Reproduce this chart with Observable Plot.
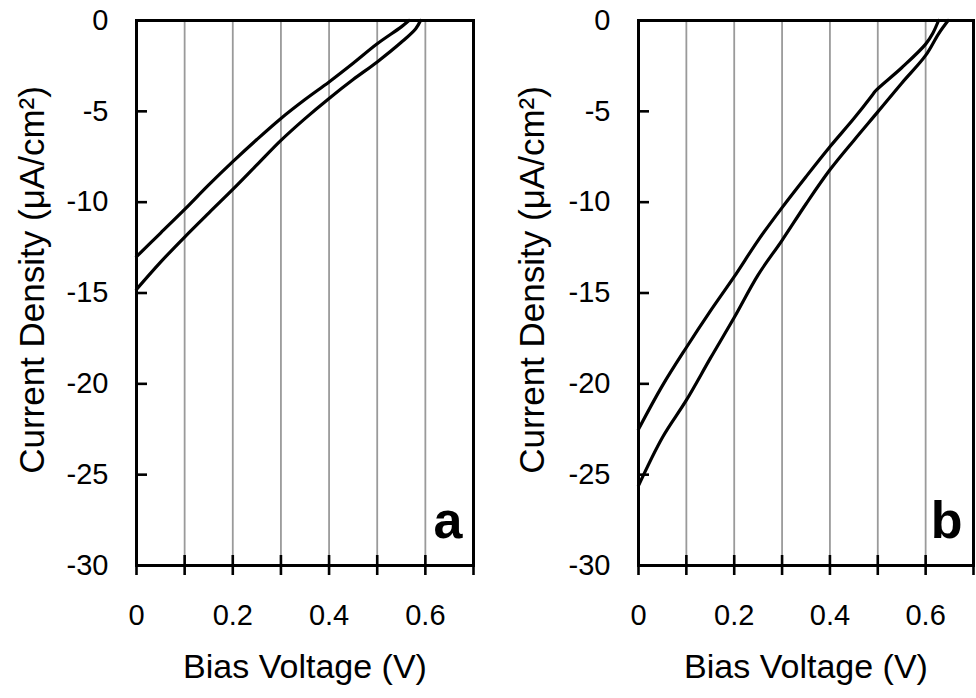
<!DOCTYPE html>
<html>
<head>
<meta charset="utf-8">
<script src="https://cdn.jsdelivr.net/npm/d3@7"></script>
<script src="https://cdn.jsdelivr.net/npm/@observablehq/plot@0.6"></script>
<style>
  html, body { margin: 0; padding: 0; background: #fff; }
  #row { display: flex; width: 976px; height: 698px; overflow: hidden; }
  #row svg { display: block; flex: none; }
</style>
</head>
<body>
<div id="row"></div>
<script>
// ---- Data ----
// Panel a
const aUpperV = [0, 0.05, 0.1, 0.15, 0.2, 0.25, 0.3, 0.35, 0.4, 0.45, 0.5, 0.55, 0.566];
const aUpperJ = [-13.0, -11.7, -10.4, -9.05, -7.77, -6.55, -5.39, -4.35, -3.38, -2.35, -1.28, -0.35, 0];
const aLowerV = [0, 0.05, 0.1, 0.15, 0.2, 0.25, 0.3, 0.35, 0.4, 0.45, 0.5, 0.55, 0.58, 0.59];
const aLowerJ = [-14.8, -13.3, -11.92, -10.6, -9.3, -7.95, -6.6, -5.4, -4.29, -3.25, -2.28, -1.2, -0.45, 0];
// Panel b
const bUpperV = [0, 0.05, 0.1, 0.15, 0.2, 0.25, 0.3, 0.35, 0.4, 0.45, 0.488, 0.495, 0.55, 0.6, 0.615, 0.627];
const bUpperJ = [-22.5, -20.1, -18.0, -16.0, -14.1, -12.1, -10.3, -8.6, -6.95, -5.4, -4.13, -3.88, -2.6, -1.3, -0.7, 0];
const bLowerV = [0, 0.05, 0.1, 0.15, 0.2, 0.25, 0.3, 0.35, 0.4, 0.45, 0.5, 0.55, 0.6, 0.627, 0.647];
const bLowerJ = [-25.6, -22.95, -20.9, -18.6, -16.35, -14.0, -12.1, -10.1, -8.22, -6.6, -5.03, -3.45, -1.92, -0.73, 0];

// Axes / ticks
const voltageTicks = [0, 0.1, 0.2, 0.3, 0.4, 0.5, 0.6, 0.7];
const voltageTickLabels = ["0", "", "0.2", "", "0.4", "", "0.6", ""];
const gridVoltages = [0.1, 0.2, 0.3, 0.4, 0.5, 0.6];
const currentTicks = [0, -5, -10, -15, -20, -25, -30];
const xLabel = ["Bias Voltage (V)"];
const yLabel = ["Current Density (\u03bcA/cm\u00b2)"];
const panelLetters = ["a", "b"];

function toRows(V, J) { return V.map((v, i) => ({v, j: J[i]})); }

function panel({upperV, upperJ, lowerV, lowerJ, letter, marginLeft, marginRight, yLabelDx}) {
  const upper = toRows(upperV, upperJ);
  const lower = toRows(lowerV, lowerJ);
  return Plot.plot({
    width: 488,
    height: 698,
    marginLeft,
    marginRight,
    marginTop: 20,
    marginBottom: 133,
    style: {fontFamily: "'Liberation Sans', Arial, sans-serif", fontSize: "29px", color: "black", background: "white", overflow: "visible"},
    x: {domain: [0, 0.7]},
    y: {domain: [-30, 0]},
    marks: [
      Plot.ruleX(gridVoltages, {x: d => d, stroke: "#9a9a9a", strokeWidth: 1.8}),
      Plot.line(upper, {x: "v", y: "j", curve: "catmull-rom", stroke: "black", strokeWidth: 3.2, strokeLinejoin: "round"}),
      Plot.line(lower, {x: "v", y: "j", curve: "catmull-rom", stroke: "black", strokeWidth: 3.2, strokeLinejoin: "round"}),
      Plot.frame({stroke: "black", strokeWidth: 3}),
      Plot.axisY(currentTicks, {tickSize: -11, tickPadding: 39, strokeWidth: 2.6, tickFormat: d => String(d), label: null, fontSize: 29}),
      Plot.axisX(voltageTicks, {tickSize: 10, tickPadding: 29, strokeWidth: 2.6, tickFormat: d => voltageTickLabels[voltageTicks.indexOf(d)], label: null, fontSize: 29}),
      Plot.axisX(voltageTicks, {tickSize: -10, strokeWidth: 2.6, tickFormat: () => "", label: null}),
      Plot.text(xLabel, {text: d => d, frameAnchor: "bottom", textAnchor: "middle", dy: 102, lineAnchor: "middle", fontSize: 34, fill: "black"}),
      Plot.text(yLabel, {text: d => d, frameAnchor: "left", textAnchor: "middle", rotate: -90, dx: yLabelDx, dy: -13, lineAnchor: "middle", fontSize: 35, fill: "black"}),
      Plot.text([letter], {text: d => d, frameAnchor: "bottom-right", textAnchor: "end", lineAnchor: "middle", dx: -11, dy: -44, fontSize: 52, fontWeight: "bold", fill: "black"})
    ]
  });
}

const row = document.getElementById("row");
row.appendChild(panel({upperV: aUpperV, upperJ: aUpperJ, lowerV: aLowerV, lowerJ: aLowerJ, letter: panelLetters[0], marginLeft: 136, marginRight: 15, yLabelDx: -104}));
row.appendChild(panel({upperV: bUpperV, upperJ: bUpperJ, lowerV: bLowerV, lowerJ: bLowerJ, letter: panelLetters[1], marginLeft: 150, marginRight: 3, yLabelDx: -106}));
</script>
</body>
</html>
